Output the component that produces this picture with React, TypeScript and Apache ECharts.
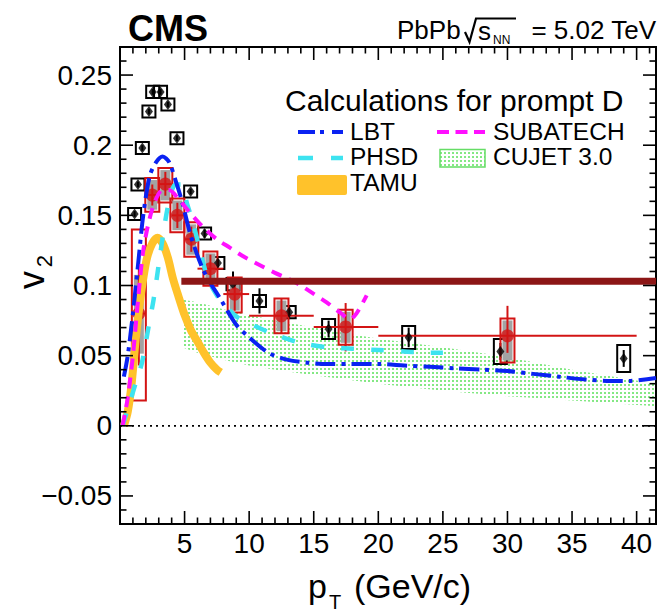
import React, { useEffect, useRef } from 'react';
import * as echarts from 'echarts';

// ---- axis ranges and tick labels ----
const X_MIN = 0;
const X_MAX = 41.5;
const Y_MIN = -0.07;
const Y_MAX = 0.27;
const xTickValues = [5, 10, 15, 20, 25, 30, 35, 40];
const xTickLabels = ['5', '10', '15', '20', '25', '30', '35', '40'];
const yTickValues = [-0.05, 0, 0.05, 0.1, 0.15, 0.2, 0.25];
const yTickLabels = ['\u22120.05', '0', '0.05', '0.1', '0.15', '0.2', '0.25'];

// ---- black points: pT, v2, stat. error, syst. half-height ----
const blackPt = [1.13, 1.39, 1.73, 2.24, 2.53, 3.14, 3.71, 4.41, 5.47, 6.55, 7.58, 8.75, 10.8, 13.1, 16.15, 22.35, 29.45, 39.0];
const blackV2 = [0.151, 0.172, 0.198, 0.224, 0.238, 0.238, 0.229, 0.205, 0.167, 0.137, 0.116, 0.101, 0.089, 0.081, 0.069, 0.063, 0.053, 0.048];
const blackStat = [0.002, 0.002, 0.002, 0.002, 0.002, 0.002, 0.002, 0.002, 0.002, 0.003, 0.003, 0.009, 0.009, 0.005, 0.006, 0.007, 0.006, 0.006];
const blackSys = [0.0043, 0.0043, 0.0043, 0.0043, 0.0043, 0.0043, 0.0043, 0.0043, 0.0043, 0.0043, 0.0043, 0.0043, 0.0043, 0.0043, 0.0071, 0.0082, 0.0089, 0.0096];

// ---- prompt D (red): pT, v2, bin edges, stat. range, syst. boxes ----
const redPt = [1.46, 2.5, 3.51, 4.44, 5.52, 7.0, 8.88, 12.5, 17.47, 30.0];
const redV2 = [0.08, 0.1645, 0.1723, 0.15, 0.133, 0.112, 0.0939, 0.0784, 0.0705, 0.0641];
const redBinLo = [1, 2, 3, 4, 5, 6, 8, 10, 15, 20];
const redBinHi = [2, 3, 4, 5, 6, 8, 10, 15, 20, 40];
const redStatLo = [0.043, 0.157, 0.164, 0.141, 0.124, 0.102, 0.082, 0.066, 0.053, 0.052];
const redStatHi = [0.116, 0.172, 0.181, 0.159, 0.142, 0.122, 0.105, 0.0905, 0.0875, 0.0855];
const redSysLo = [0.018, 0.1526, 0.1592, 0.138, 0.1205, 0.0998, 0.0807, 0.066, 0.0577, 0.0451];
const redSysHi = [0.14, 0.1766, 0.1837, 0.162, 0.145, 0.1243, 0.1057, 0.0907, 0.0827, 0.0765];
const redGreyLo = [0.05, 0.1526, 0.1592, 0.138, 0.1205, 0.0998, 0.0807, 0.066, 0.0577, 0.0451];
const redGreyHi = [0.109, 0.1766, 0.1837, 0.162, 0.145, 0.1243, 0.1057, 0.0907, 0.0827, 0.0765];

// ---- horizontal reference line ----
const refLineFrom = 4.75;
const refLineV2 = 0.103;

// ---- model calculations ----
const lbtPt = [0.3, 0.6, 1.0, 1.4, 1.8, 2.3, 2.8, 3.3, 3.8, 4.3, 4.8, 5.5, 6.5, 7.8, 9.0, 10.0, 11.5, 13, 14.5, 16, 18, 20, 22, 24, 26, 28, 30, 32, 34, 36, 38, 39.5, 41.5];
const lbtV2 = [0.035, 0.05, 0.08, 0.115, 0.15, 0.178, 0.188, 0.192, 0.188, 0.175, 0.16, 0.135, 0.11, 0.09, 0.072, 0.063, 0.052, 0.047, 0.045, 0.044, 0.044, 0.044, 0.043, 0.042, 0.041, 0.04, 0.039, 0.037, 0.035, 0.033, 0.032, 0.032, 0.034];

const phsdPt = [0.2, 0.7, 1.2, 1.7, 2.2, 2.6, 3.0, 3.4, 3.8, 4.3, 4.7, 5.2, 5.7, 6.2, 6.8, 7.5, 8.0, 9.0, 10.0, 12.0, 14, 16, 18, 20, 22, 24, 25];
const phsdV2 = [0.0, 0.015, 0.03, 0.045, 0.07, 0.09, 0.115, 0.14, 0.16, 0.172, 0.172, 0.158, 0.143, 0.125, 0.105, 0.093, 0.087, 0.078, 0.073, 0.065, 0.059, 0.056, 0.055, 0.054, 0.053, 0.052, 0.052];

const subatechPt = [0.2, 0.6, 1.0, 1.4, 1.8, 2.3, 2.8, 3.3, 3.8, 4.5, 5.5, 6.5, 7.5, 8.5, 9.5, 10.5, 12, 13, 14, 15, 16, 17, 17.8, 18.3, 19.1];
const subatechV2 = [0.0, 0.02, 0.05, 0.09, 0.125, 0.148, 0.162, 0.168, 0.168, 0.162, 0.151, 0.141, 0.133, 0.127, 0.121, 0.116, 0.109, 0.105, 0.1, 0.094, 0.088, 0.081, 0.076, 0.08, 0.093];

const tamuPt = [0.3, 0.6, 0.9, 1.2, 1.5, 1.8, 2.1, 2.5, 2.9, 3.3, 3.7, 4.1, 4.5, 5.0, 5.5, 6.0, 6.5, 7.0, 7.5, 7.8];
const tamuV2 = [0.0, 0.01, 0.03, 0.06, 0.085, 0.105, 0.12, 0.13, 0.134, 0.13, 0.12, 0.105, 0.093, 0.079, 0.068, 0.06, 0.052, 0.045, 0.04, 0.038];

const cujetPt = [4.8, 6, 8, 10, 12, 15, 20, 25, 30, 35, 41.5];
const cujetHi = [0.09, 0.088, 0.083, 0.079, 0.075, 0.07, 0.062, 0.056, 0.049, 0.04, 0.03];
const cujetLo = [0.056, 0.052, 0.047, 0.043, 0.04, 0.036, 0.03, 0.025, 0.021, 0.018, 0.014];

const FONT = '"Liberation Sans", Arial, Helvetica, sans-serif';
const BLUE = '#0a22f2';
const CYAN = '#3de3f0';
const MAGENTA = '#ff10ff';
const ORANGE = '#ffc22b';
const DOT_GREEN = '#84e884';
const RED = '#d31414';
const DARK_RED = '#8c1616';

const pairs = (xs: number[], ys: number[]) => xs.map((x, i) => [x, ys[i]]);

function makeDotPattern() {
  const cv = document.createElement('canvas');
  cv.width = 4;
  cv.height = 4;
  const ctx = cv.getContext('2d');
  if (ctx) {
    ctx.fillStyle = DOT_GREEN;
    ctx.fillRect(0, 0, 2, 2);
  }
  return { image: cv, repeat: 'repeat', imageWidth: 4, imageHeight: 4 };
}

function txt(x: number, y: number, text: string, size: number, opts: any = {}) {
  const align = opts.align || 'left';
  const valign = opts.valign || 'middle';
  return {
    type: 'text',
    x,
    y,
    rotation: opts.rotation || 0,
    silent: true,
    style: {
      text,
      fill: '#000',
      font: `${opts.bold ? 'bold ' : ''}${size}px ${FONT}`,
      align,
      verticalAlign: valign,
      textAlign: align,
      textVerticalAlign: valign,
    },
  };
}

export default function App() {
  const ref = useRef<HTMLDivElement>(null);

  useEffect(() => {
    if (!ref.current) return;
    const chart = echarts.init(ref.current, undefined, { renderer: 'svg' });
    const dotFill = makeDotPattern();

    const xFormatter = (v: number) => {
      const i = xTickValues.findIndex((t) => Math.abs(t - v) < 1e-6);
      return i >= 0 ? xTickLabels[i] : '';
    };
    const yFormatter = (v: number) => {
      const k = Math.round(v * 100);
      const i = yTickValues.findIndex((t) => Math.round(t * 100) === k);
      return i >= 0 ? yTickLabels[i] : '';
    };

    const lineSeries = (xs: number[], ys: number[], color: string, width: number, dash: any, extra: any = {}) => ({
      type: 'line',
      data: pairs(xs, ys),
      showSymbol: false,
      symbol: 'none',
      silent: true,
      smooth: 0.3,
      lineStyle: { color, width, type: dash, cap: 'butt', join: 'round' },
      ...extra,
    });

    // CUJET 3.0 dotted band
    const cujetSeries = {
      type: 'custom',
      silent: true,
      data: [[cujetPt[0], cujetHi[0]]],
      renderItem: (_p: any, api: any) => {
        const pts: number[][] = [];
        cujetPt.forEach((x, i) => pts.push(api.coord([x, cujetHi[i]])));
        for (let i = cujetPt.length - 1; i >= 0; i--) pts.push(api.coord([cujetPt[i], cujetLo[i]]));
        return { type: 'polygon', shape: { points: pts }, style: { fill: dotFill } };
      },
    };

    // black points: open systematic boxes and statistical bars
    const blackBoxes = {
      type: 'custom',
      silent: true,
      data: blackPt.map((x, i) => [x, blackV2[i], blackStat[i], blackSys[i]]),
      encode: { x: 0, y: 1 },
      renderItem: (_p: any, api: any) => {
        const x = api.value(0);
        const y = api.value(1);
        const st = api.value(2);
        const sy = api.value(3);
        const c = api.coord([x, y]);
        const top = api.coord([x, y + sy])[1];
        const bot = api.coord([x, y - sy])[1];
        const sTop = api.coord([x, y + st])[1];
        const sBot = api.coord([x, y - st])[1];
        const half = 6.5;
        return {
          type: 'group',
          children: [
            { type: 'line', shape: { x1: c[0], y1: sTop, x2: c[0], y2: sBot }, style: { stroke: '#000', lineWidth: 2 } },
            { type: 'rect', shape: { x: c[0] - half, y: top, width: 2 * half, height: bot - top }, style: { fill: 'none', stroke: '#000', lineWidth: 2 } },
          ],
        };
      },
    };

    // red points: grey + red systematic boxes, bin-width and statistical bars
    const redBoxes = {
      type: 'custom',
      silent: true,
      data: redPt.map((x, i) => [x, redV2[i], redBinLo[i], redBinHi[i], redStatLo[i], redStatHi[i], redSysLo[i], redSysHi[i], redGreyLo[i], redGreyHi[i]]),
      encode: { x: 0, y: 1 },
      renderItem: (_p: any, api: any) => {
        const x = api.value(0);
        const y = api.value(1);
        const c = api.coord([x, y]);
        const xl = api.coord([api.value(2), y])[0];
        const xh = api.coord([api.value(3), y])[0];
        const sLo = api.coord([x, api.value(4)])[1];
        const sHi = api.coord([x, api.value(5)])[1];
        const bLo = api.coord([x, api.value(6)])[1];
        const bHi = api.coord([x, api.value(7)])[1];
        const gLo = api.coord([x, api.value(8)])[1];
        const gHi = api.coord([x, api.value(9)])[1];
        const half = 7;
        return {
          type: 'group',
          children: [
            { type: 'rect', shape: { x: c[0] - 5, y: gHi + 2, width: 10, height: gLo - gHi - 4 }, style: { fill: '#a3a3a3' } },
            { type: 'rect', shape: { x: c[0] - half, y: bHi, width: 2 * half, height: bLo - bHi }, style: { fill: 'none', stroke: RED, lineWidth: 2 } },
            { type: 'line', shape: { x1: xl, y1: c[1], x2: xh, y2: c[1] }, style: { stroke: RED, lineWidth: 2 } },
            { type: 'line', shape: { x1: c[0], y1: sHi, x2: c[0], y2: sLo }, style: { stroke: RED, lineWidth: 2 } },
          ],
        };
      },
    };

    // frame ticks on all four sides
    const tickSeries = {
      type: 'custom',
      silent: true,
      z: 20,
      data: [[X_MIN, Y_MIN]],
      renderItem: (_p: any, api: any) => {
        const children: any[] = [];
        const seg = (x1: number, y1: number, x2: number, y2: number) =>
          children.push({ type: 'line', shape: { x1, y1, x2, y2 }, style: { stroke: '#000', lineWidth: 1.6 } });
        for (let i = Math.ceil(X_MIN) + 1; i < X_MAX; i++) {
          const major = i % 5 === 0;
          const len = major ? 13 : 6.5;
          const b = api.coord([i, Y_MIN]);
          const t = api.coord([i, Y_MAX]);
          seg(b[0], b[1], b[0], b[1] - len);
          seg(t[0], t[1], t[0], t[1] + len);
        }
        for (let k = Math.round(Y_MIN * 100) + 1; k < Math.round(Y_MAX * 100); k++) {
          const major = k % 5 === 0;
          const len = major ? 13 : 6.5;
          const l = api.coord([X_MIN, k / 100]);
          const r = api.coord([X_MAX, k / 100]);
          seg(l[0], l[1], l[0] + len, l[1]);
          seg(r[0], r[1], r[0] - len, r[1]);
        }
        return { type: 'group', children };
      },
    };

    const legendX = 298;
    const graphic: any[] = [
      // header
      txt(128, 28, 'CMS', 36, { bold: true }),
      txt(397, 30, 'PbPb', 26),
      { type: 'polyline', silent: true, shape: { points: [[465, 32], [469.5, 42], [476, 18.5], [516, 18.5]] }, style: { stroke: '#000', lineWidth: 2.2, fill: 'none' } },
      txt(478, 31, 's', 26),
      txt(493, 40, 'NN', 12),
      txt(656, 30, '= 5.02 TeV', 26, { align: 'right' }),
      // axis titles
      txt(308, 586, 'p', 34),
      txt(329, 602, 'T', 20),
      txt(354, 586, '(GeV/c)', 34),
      txt(31, 280, 'v', 36, { align: 'center', rotation: Math.PI / 2 }),
      txt(44, 261, '2', 22, { align: 'center', rotation: Math.PI / 2 }),
      // legend
      txt(285, 100, 'Calculations for prompt D', 30),
      { type: 'line', silent: true, shape: { x1: legendX, y1: 132, x2: legendX + 45, y2: 132 }, style: { stroke: BLUE, lineWidth: 4, lineDash: [17, 5, 4, 8] } },
      txt(350, 131, 'LBT', 24.5),
      { type: 'line', silent: true, shape: { x1: legendX, y1: 158, x2: legendX + 45, y2: 158 }, style: { stroke: CYAN, lineWidth: 4.5, lineDash: [15, 18] } },
      txt(350, 156, 'PHSD', 24.5),
      { type: 'rect', silent: true, shape: { x: 297, y: 175, width: 50, height: 20, r: 2 }, style: { fill: ORANGE } },
      txt(350, 182, 'TAMU', 24.5),
      { type: 'line', silent: true, shape: { x1: 437, y1: 132, x2: 485, y2: 132 }, style: { stroke: MAGENTA, lineWidth: 4, lineDash: [12, 6.5] } },
      txt(493, 131, 'SUBATECH', 24.5),
      { type: 'rect', silent: true, shape: { x: 440, y: 149.5, width: 45, height: 17.5 }, style: { fill: dotFill, stroke: '#66dd66', lineWidth: 1.5 } },
      txt(493, 156, 'CUJET 3.0', 24.5),
    ];

    const option: any = {
      animation: false,
      grid: { left: 120, top: 47, right: 6, bottom: 90, show: true, borderColor: '#000', borderWidth: 2, backgroundColor: 'transparent' },
      xAxis: {
        type: 'value',
        min: X_MIN,
        max: X_MAX,
        interval: 5,
        axisLine: { show: false },
        axisTick: { show: false },
        splitLine: { show: false },
        axisLabel: { formatter: xFormatter, fontSize: 28, color: '#000', fontFamily: FONT, margin: 5 },
      },
      yAxis: {
        type: 'value',
        min: Y_MIN,
        max: Y_MAX,
        interval: 0.01,
        axisLine: { show: false },
        axisTick: { show: false },
        splitLine: { show: false },
        axisLabel: { formatter: yFormatter, fontSize: 28, color: '#000', fontFamily: FONT, margin: 8 },
      },
      graphic,
      series: [
        cujetSeries,
        lineSeries([X_MIN, X_MAX], [0, 0], '#000', 1.8, [2, 4], { smooth: false }),
        blackBoxes,
        redBoxes,
        lineSeries(tamuPt, tamuV2, ORANGE, 8, 'solid'),
        lineSeries(phsdPt, phsdV2, CYAN, 4.5, [13, 17]),
        lineSeries(lbtPt, lbtV2, BLUE, 4, [20, 6, 4, 6]),
        lineSeries(subatechPt, subatechV2, MAGENTA, 4, [11, 8]),
        lineSeries([refLineFrom, X_MAX], [refLineV2, refLineV2], DARK_RED, 7, 'solid', { smooth: false }),
        {
          type: 'scatter',
          silent: true,
          data: pairs(blackPt, blackV2),
          symbol: 'diamond',
          symbolSize: [8, 11],
          itemStyle: { color: '#000' },
        },
        {
          type: 'scatter',
          silent: true,
          data: pairs(redPt, redV2),
          symbol: 'circle',
          symbolSize: 13,
          itemStyle: { color: RED },
        },
        tickSeries,
      ],
    };

    chart.setOption(option);
    return () => chart.dispose();
  }, []);

  return (
    <div
      ref={ref}
      style={{ position: 'absolute', left: 0, top: 0, width: 662, height: 614, background: '#fff' }}
    />
  );
}
